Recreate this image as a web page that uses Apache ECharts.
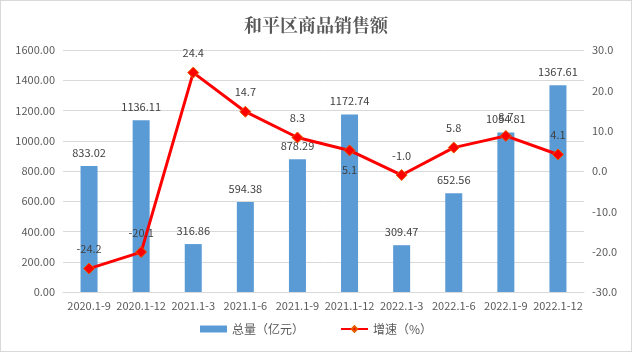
<!DOCTYPE html>
<html lang="zh">
<head>
    <meta charset="UTF-8">
    <title>和平区商品销售额</title>
    <script src="https://cdn.jsdelivr.net/npm/echarts@6/dist/echarts.min.js"></script>
    <style>
        html,body{margin:0;padding:0;background:#fff;}
        #main{position:absolute;left:0;top:0;width:630px;height:350px;border:1px solid #d9d9d9;}
    </style>
</head>
<body>
<div id="main"></div>
<script>
    // 数据
    var periods = ['2020.1-9','2020.1-12','2021.1-3','2021.1-6','2021.1-9','2021.1-12','2022.1-3','2022.1-6','2022.1-9','2022.1-12'];
    var totals = [833.02, 1136.11, 316.86, 594.38, 878.29, 1172.74, 309.47, 652.56, 1054.81, 1367.61];
    var growth = [-24.2, -20.1, 24.4, 14.7, 8.3, 5.1, -1.0, 5.8, 8.7, 4.1];
    var growthLabelPos = ['top','top','top','top','top','bottom','top','top','top','top'];

    var txt = '#404040';
    var font = '"Microsoft YaHei","Noto Sans CJK SC",sans-serif';

    var myChart = echarts.init(document.getElementById('main'));

    var option = {
        animation: false,
        title: {
            text: '和平区商品销售额',
            left: 'center',
            top: 10,
            textStyle: {
                fontFamily: '"Noto Serif CJK SC","Noto Sans CJK SC",serif',
                fontSize: 18,
                fontWeight: 'bold',
                color: '#595959'
            }
        },
        legend: {
            bottom: 11,
            itemGap: 36,
            itemWidth: 27,
            itemHeight: 7,
            textStyle: {fontFamily: font, fontSize: 12, color: '#595959'},
            data: [
                {name: '总量（亿元）', icon: 'rect'},
                {name: '增速（%）'}
            ]
        },
        grid: {left: 62, right: 47, top: 49, bottom: 59},
        xAxis: {
            type: 'category',
            data: periods,
            axisTick: {show: false},
            axisLine: {lineStyle: {color: '#d9d9d9'}},
            axisLabel: {color: '#595959', fontFamily: font, fontSize: 11, interval: 0, margin: 8}
        },
        yAxis: [{
            type: 'value',
            min: 0, max: 1600, interval: 200,
            axisLabel: {color: '#595959', fontFamily: font, fontSize: 11,
                formatter: function (v) { return v.toFixed(2); }},
            splitLine: {lineStyle: {color: '#d9d9d9'}}
        }, {
            type: 'value',
            min: -30, max: 30, interval: 10,
            axisLabel: {color: '#595959', fontFamily: font, fontSize: 11,
                formatter: function (v) { return v.toFixed(1); }},
            splitLine: {show: false}
        }],
        series: [{
            name: '总量（亿元）',
            type: 'bar',
            barWidth: 17,
            itemStyle: {color: '#5b9bd5'},
            label: {show: true, position: 'top', distance: 8, color: txt, fontFamily: font, fontSize: 11,
                formatter: function (p) { return p.value.toFixed(2); }},
            data: totals
        }, {
            name: '增速（%）',
            type: 'line',
            yAxisIndex: 1,
            symbol: 'diamond',
            symbolSize: 11,
            lineStyle: {color: '#ff0000', width: 3},
            itemStyle: {color: '#ff0000', borderColor: '#e65c00', borderWidth: 1},
            z: 5,
            data: growth.map(function (v, i) {
                return {
                    value: v,
                    label: {show: true, position: growthLabelPos[i], distance: 8, color: txt,
                        fontFamily: font, fontSize: 11,
                        formatter: function (p) { return p.value.toFixed(1); }}
                };
            })
        }]
    };

    myChart.setOption(option);
</script>
</body>
</html>
